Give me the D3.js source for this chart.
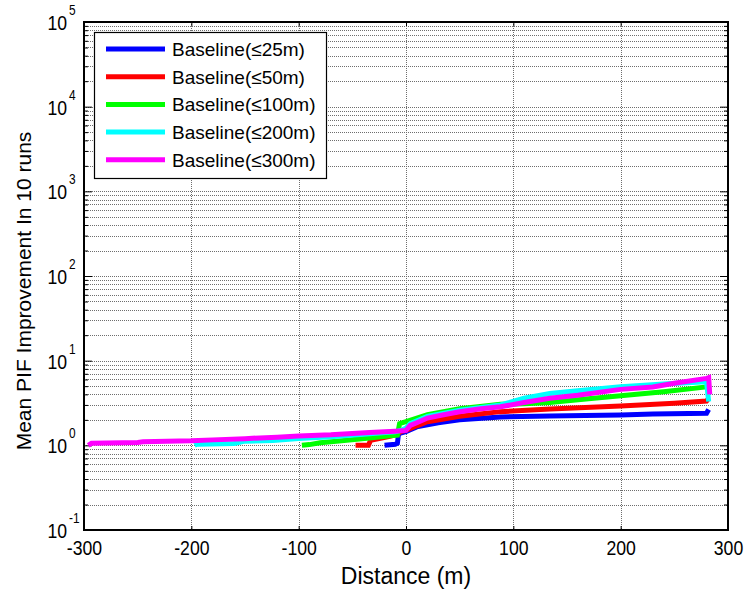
<!DOCTYPE html>
<html>
<head>
<meta charset="utf-8">
<script src="https://cdn.jsdelivr.net/npm/d3@7"></script>
<style>
  body { margin: 0; background: #fff; }
  svg { display: block; }
  text { font-family: "Liberation Sans", Arial, Helvetica, sans-serif; fill: #000; }
</style>
</head>
<body>
<svg id="chart" width="747" height="593"></svg>
<script>
// ---- data ----
const xTicks = [-300, -200, -100, 0, 100, 200, 300];
const yExponents = [-1, 0, 1, 2, 3, 4, 5];
const seriesNames = ["Baseline(≤25m)", "Baseline(≤50m)", "Baseline(≤100m)", "Baseline(≤200m)", "Baseline(≤300m)"];
const seriesColors = ["#0000ff", "#ff0000", "#00ff00", "#00ffff", "#ff00ff"];

const baseline25 = [[-20,1.0],[-10,1.03],[-8,1.06],[-7,1.35],[-5,1.4],[0,1.45],[10,1.65],[30,1.85],[50,2.0],[88,2.16],[134,2.22],[200,2.28],[230,2.35],[280,2.39],[282,2.65]];
const baseline50 = [[-47,1.0],[-35,1.0],[-33,1.15],[-25,1.2],[-15,1.28],[-8,1.35],[-5,1.45],[0,1.5],[10,1.7],[20,1.9],[50,2.2],[88,2.5],[134,2.68],[200,2.91],[250,3.15],[280,3.33],[282,3.6]];
const baseline100 = [[-97,1.0],[-90,1.02],[-80,1.07],[-60,1.13],[-34,1.22],[-15,1.3],[-8,1.32],[-6,1.8],[0,1.9],[20,2.3],[50,2.7],[88,3.05],[110,3.1],[134,3.2],[170,3.55],[200,3.85],[240,4.3],[280,4.9],[282,5.0]];
const baseline200 = [[-197,1.0],[-195,1.03],[-160,1.05],[-150,1.12],[-124,1.14],[-100,1.2],[-70,1.26],[-34,1.37],[-10,1.45],[-5,1.5],[0,1.6],[4,1.8],[20,2.2],[50,2.6],[88,3.0],[110,3.6],[134,4.1],[160,4.4],[200,4.93],[240,5.3],[280,5.64],[282,3.3]];
const baseline300 = [[-296,1.0],[-293,1.06],[-250,1.08],[-245,1.1],[-200,1.13],[-180,1.16],[-150,1.2],[-120,1.25],[-100,1.29],[-70,1.33],[-34,1.42],[-10,1.47],[0,1.5],[4,1.72],[10,1.85],[20,2.1],[35,2.3],[50,2.49],[70,2.7],[88,2.85],[110,3.2],[134,3.6],[160,3.9],[200,4.58],[230,4.9],[250,5.4],[280,6.18],[282,6.3],[283,4.0]];
const allSeries = [baseline25, baseline50, baseline100, baseline200, baseline300];

// ---- layout ----
const svg = d3.select("#chart");
const L = 84, R = 728, T = 22, B = 530;

const x = d3.scaleLinear().domain([-300, 300]).range([L, R]);
const y = d3.scaleLog().domain([0.1, 1e5]).range([B, T]);

const allYTicks = y.ticks();
const majorYTicks = yExponents.map(e => Math.pow(10, e));
const minorYTicks = allYTicks.filter(v => !majorYTicks.some(m => Math.abs(m - v) / m < 1e-9));

// narrow text helper (reference tick labels are condensed)
function narrow(sel, f) {
  sel.each(function () {
    const len = this.getComputedTextLength();
    d3.select(this).attr("textLength", len * f).attr("lengthAdjust", "spacingAndGlyphs");
  });
}

// ---- grid ----
const grid = svg.append("g").attr("stroke", "#6e6e6e").attr("stroke-width", 1).attr("stroke-dasharray", "1,1");
grid.selectAll("line.h").data(allYTicks).join("line")
  .attr("x1", L).attr("x2", R)
  .attr("y1", d => Math.round(y(d)) + 0.5).attr("y2", d => Math.round(y(d)) + 0.5);
grid.selectAll("line.v").data(xTicks.slice(1, -1)).join("line")
  .attr("y1", T).attr("y2", B)
  .attr("x1", d => Math.round(x(d)) + 0.5).attr("x2", d => Math.round(x(d)) + 0.5);

// ---- axes ticks ----
function styleAxis(g) {
  g.select(".domain").remove();
  g.selectAll(".tick line").attr("stroke", "#000").attr("stroke-width", 1);
}
svg.append("g").attr("transform", `translate(0,${B})`)
  .call(d3.axisBottom(x).tickValues(xTicks).tickSizeInner(-4).tickSizeOuter(0).tickPadding(10).tickFormat(d => String(d)))
  .call(styleAxis)
  .call(g => g.selectAll(".tick text").attr("font-size", 21).attr("fill", "#000")
      .attr("font-family", '"Liberation Sans", Arial, sans-serif').call(narrow, 0.84));
svg.append("g").attr("transform", `translate(0,${T})`)
  .call(d3.axisTop(x).tickValues(xTicks).tickSizeInner(-4).tickSizeOuter(0).tickFormat(""))
  .call(styleAxis);
svg.append("g").attr("transform", `translate(${L},0)`)
  .call(d3.axisLeft(y).tickValues(majorYTicks).tickSizeInner(-8).tickSizeOuter(0).tickFormat(""))
  .call(styleAxis);
svg.append("g").attr("transform", `translate(${L},0)`)
  .call(d3.axisLeft(y).tickValues(minorYTicks).tickSizeInner(-4).tickSizeOuter(0).tickFormat(""))
  .call(styleAxis);
svg.append("g").attr("transform", `translate(${R},0)`)
  .call(d3.axisRight(y).tickValues(majorYTicks).tickSizeInner(-8).tickSizeOuter(0).tickFormat(""))
  .call(styleAxis);
svg.append("g").attr("transform", `translate(${R},0)`)
  .call(d3.axisRight(y).tickValues(minorYTicks).tickSizeInner(-4).tickSizeOuter(0).tickFormat(""))
  .call(styleAxis);

// y tick labels 10^n
const yl = svg.append("g");
yExponents.forEach(e => {
  const v = Math.pow(10, e);
  const py = y(v);
  yl.append("text").attr("x", 67).attr("y", py + 8).attr("text-anchor", "end")
    .attr("font-size", 21).text("10").call(narrow, 0.84);
  yl.append("text").attr("x", 69).attr("y", py - 7).attr("text-anchor", "start")
    .attr("font-size", 14).text(String(e)).call(narrow, 0.85);
});

// ---- lines ----
const line = d3.line().x(d => x(d[0])).y(d => y(d[1]));
svg.append("g").selectAll("path").data(allSeries).join("path")
  .attr("d", line)
  .attr("fill", "none")
  .attr("stroke", (d, i) => seriesColors[i])
  .attr("stroke-width", 5)
  .attr("stroke-linejoin", "miter");

// ---- frame ----
svg.append("rect").attr("x", L).attr("y", T).attr("width", R - L).attr("height", B - T)
  .attr("fill", "none").attr("stroke", "#000").attr("stroke-width", 2);

// ---- legend ----
const lg = svg.append("g");
lg.append("rect").attr("x", 94.5).attr("y", 32.5).attr("width", 232).attr("height", 146)
  .attr("fill", "#fff").attr("stroke", "#000").attr("stroke-width", 1.2);
seriesNames.forEach((n, i) => {
  const ly = 49 + i * 27.7;
  lg.append("line").attr("x1", 106).attr("x2", 165).attr("y1", ly).attr("y2", ly)
    .attr("stroke", seriesColors[i]).attr("stroke-width", 5);
  lg.append("text").attr("x", 172).attr("y", ly + 7).attr("font-size", 19).text(n);
});

// ---- axis titles ----
svg.append("text").attr("x", (L + R) / 2).attr("y", 584).attr("text-anchor", "middle")
  .attr("font-size", 23).text("Distance (m)");
svg.append("text").attr("transform", `translate(31,291) rotate(-90)`).attr("text-anchor", "middle")
  .attr("font-size", 21).text("Mean PIF Improvement  In 10 runs");
</script>
</body>
</html>
